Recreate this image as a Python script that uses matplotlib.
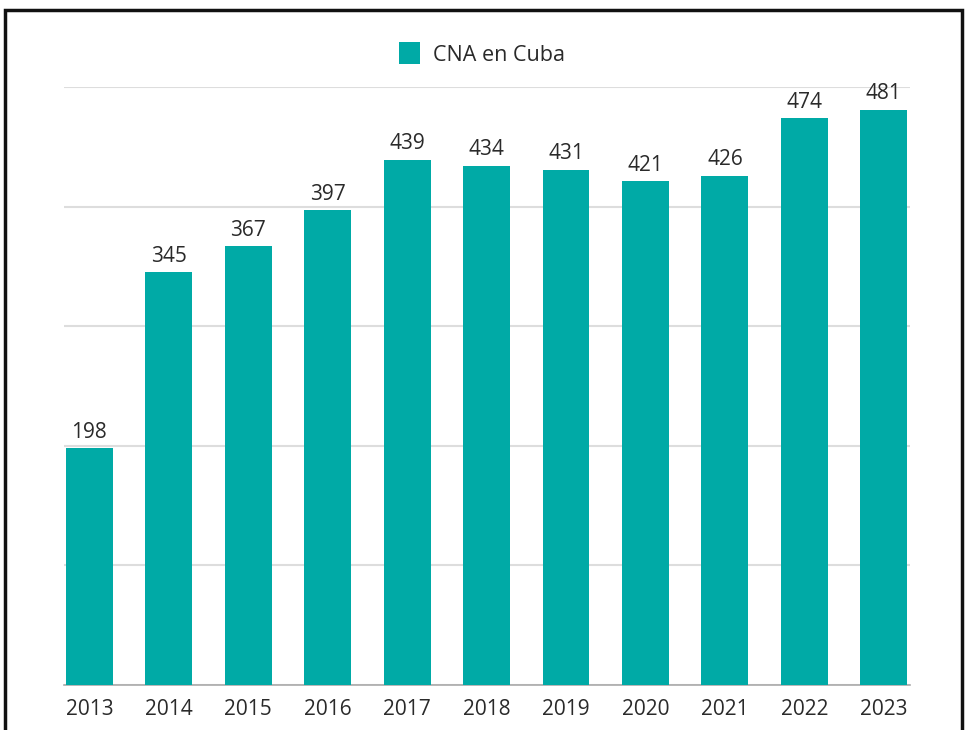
import matplotlib
matplotlib.use("Agg")
import matplotlib.pyplot as plt
from matplotlib.patches import Rectangle

years = ["2013", "2014", "2015", "2016", "2017", "2018", "2019", "2020", "2021", "2022", "2023"]
values = [198, 345, 367, 397, 439, 434, 431, 421, 426, 474, 481]
series_name = "CNA en Cuba"

plt.rcParams['font.family'] = ['Open Sans', 'DejaVu Sans']
W, H = 969, 730
fig = plt.figure(figsize=(W / 100, H / 100), dpi=100)
ax = fig.add_axes([64 / W, 45 / H, (910 - 64) / W, (685 - 87) / H])

color = "#00AAA6"
text_color = "#2a2a2a"
x = list(range(len(years)))
bars = ax.bar(x, values, width=0.59, color=color, zorder=3, label=series_name)
for xi, v in zip(x, values):
    ax.annotate(str(v), (xi, v), xytext=(0, 4), textcoords="offset points",
                ha="center", va="bottom", fontsize=15, color=text_color)

ax.set_xlim(-0.32, 10.33)
ax.set_ylim(0, 500)
ax.set_yticks([0, 100, 200, 300, 400, 500])
ax.yaxis.grid(True, color="#dddddd", linewidth=1.5, zorder=0)
ax.tick_params(axis="y", left=False, labelleft=False)
ax.tick_params(axis="x", length=0, pad=10, labelsize=15, colors=text_color)
ax.set_xticks(x)
ax.set_xticklabels(years)
for s in ["top", "right", "left"]:
    ax.spines[s].set_visible(False)
ax.spines["bottom"].set_color("#aaaaaa")
ax.spines["bottom"].set_linewidth(1.2)

leg = fig.legend(handles=[bars], labels=[series_name], loc="center",
                 bbox_to_anchor=(482 / W, 1 - 54 / H), frameon=False, fontsize=15.5,
                 handlelength=1.0, handleheight=1.2, handletextpad=0.6)
for t in leg.get_texts():
    t.set_color(text_color)

border = Rectangle((5 / W, -0.05), (962 - 5) / W, 1.05 - 10 / H, transform=fig.transFigure,
                   fill=False, edgecolor="#111111", linewidth=2.5, clip_on=False)
fig.patches.append(border)

fig.savefig("out.png", dpi=100, facecolor="white")
